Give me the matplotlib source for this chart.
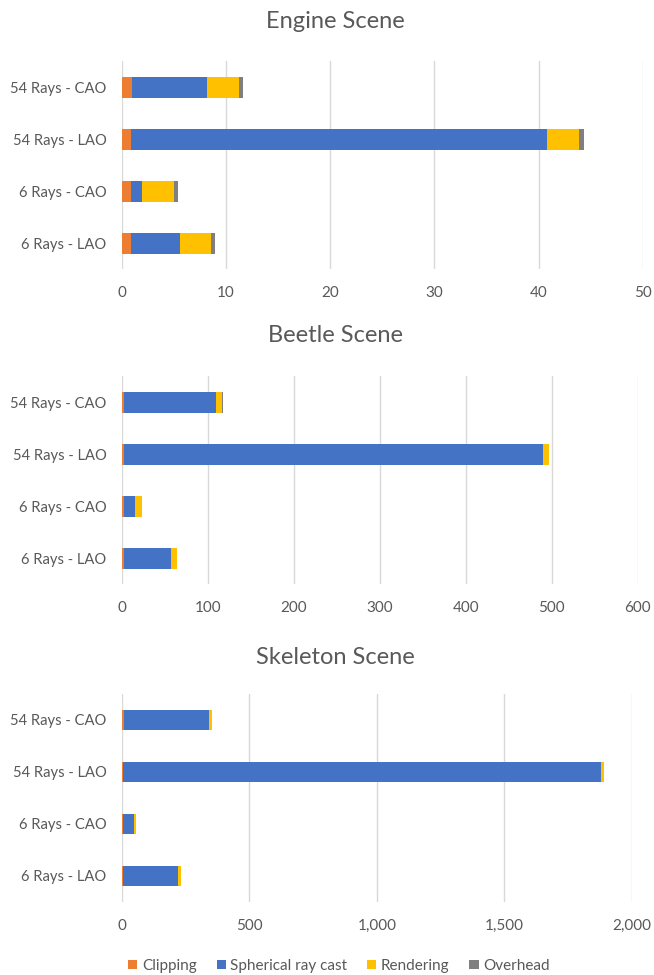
import matplotlib.pyplot as plt
from matplotlib.patches import Patch

plt.rcParams['font.family'] = ['Lato', 'DejaVu Sans']

# configurations, bottom to top as drawn
configs = ['6 Rays - LAO', '6 Rays - CAO', '54 Rays - LAO', '54 Rays - CAO']
stages = ['Clipping', 'Spherical ray cast', 'Rendering', 'Overhead']
colors = ['#ED7D31', '#4472C4', '#FFC000', '#7F7F7F']

# timings per stage, one list per stage (same order as configs)
engine_clipping = [0.86, 0.92, 0.9, 0.95]
engine_raycast = [4.7, 1.03, 39.9, 7.25]
engine_rendering = [3.04, 3.07, 3.1, 3.05]
engine_overhead = [0.35, 0.35, 0.4, 0.4]

beetle_clipping = [2.7, 2.7, 2.7, 2.7]
beetle_raycast = [54.3, 13.2, 486.8, 107.0]
beetle_rendering = [7.3, 7.7, 7.4, 7.3]
beetle_overhead = [0.4, 0.4, 0.4, 0.4]

skeleton_clipping = [7, 7, 7, 8]
skeleton_raycast = [213.5, 40, 1873, 335]
skeleton_rendering = [11, 9, 10, 12]
skeleton_overhead = [0.8, 0.8, 0.8, 0.8]

# title, stage series, x max, tick step, plot width (px), plot top (px), title centre (px)
scenes = [
    ('Engine Scene', [engine_clipping, engine_raycast, engine_rendering, engine_overhead],
     50, 10, 521.3, 61.3, 21),
    ('Beetle Scene', [beetle_clipping, beetle_raycast, beetle_rendering, beetle_overhead],
     600, 100, 516.0, 376.3, 336),
    ('Skeleton Scene', [skeleton_clipping, skeleton_raycast, skeleton_rendering, skeleton_overhead],
     2000, 500, 510.3, 694.0, 657),
]

W, H = 654, 975
fig = plt.figure(figsize=(W / 100, H / 100), dpi=100)
text_color = '#595959'

for title, series, xmax, step, width_px, top_px, title_px in scenes:
    ax = fig.add_axes([121.7 / W, 1 - (top_px + 208) / H, width_px / W, 208 / H])
    left = [0] * len(configs)
    for vals, c in zip(series, colors):
        ax.barh(configs, vals, left=left, height=0.4, color=c, zorder=3)
        left = [l + v for l, v in zip(left, vals)]
    ax.set_xlim(0, xmax)
    ax.set_ylim(-0.5, 3.5)
    ax.set_xticks(range(0, xmax + 1, step))
    ax.set_xticklabels(['{:,}'.format(t) for t in range(0, xmax + 1, step)])
    ax.grid(axis='x', color='#D9D9D9', linewidth=1, zorder=0)
    for s in ax.spines.values():
        s.set_visible(False)
    ax.tick_params(length=0, labelsize=11, labelcolor=text_color)
    ax.tick_params(axis='x', pad=12)
    ax.tick_params(axis='y', pad=11, labelsize=10.6)
    fig.text(335 / W, 1 - title_px / H, title, fontsize=17, color=text_color,
             ha='center', va='center')

handles = [Patch(facecolor=c, label=s) for s, c in zip(stages, colors)]
fig.legend(handles=handles, loc='center', bbox_to_anchor=(339 / W, 1 - 966 / H), ncol=4,
           frameon=False, fontsize=11, labelcolor=text_color, handlelength=0.6,
           handleheight=0.6, handletextpad=0.3, columnspacing=1.3)

fig.savefig('out.png', dpi=100)
